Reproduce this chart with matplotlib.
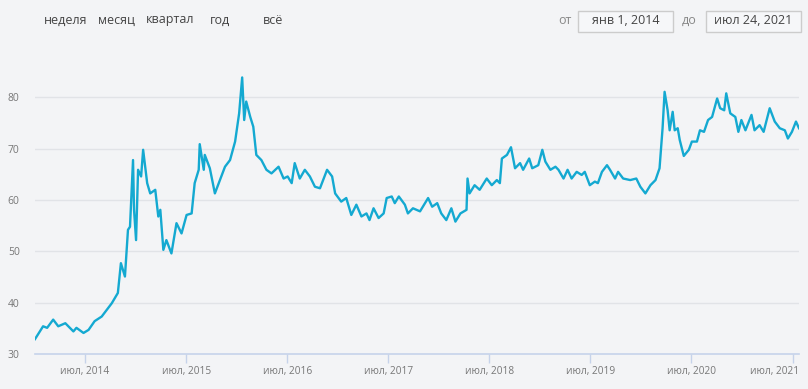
import matplotlib
matplotlib.use("Agg")
import matplotlib.pyplot as plt
import matplotlib.transforms as mtransforms
from matplotlib.patches import Rectangle

# USD/RUB, decimal years
years = [
    2014.00, 2014.08, 2014.12, 2014.18, 2014.23, 2014.30, 2014.38, 2014.41, 2014.48, 2014.53,
    2014.59, 2014.66, 2014.71, 2014.76, 2014.82, 2014.85, 2014.89, 2014.92, 2014.94, 2014.97,
    2014.98, 2015.00, 2015.02, 2015.05, 2015.07, 2015.11, 2015.14, 2015.19, 2015.22, 2015.24,
    2015.27, 2015.30, 2015.35, 2015.40, 2015.45, 2015.50, 2015.55, 2015.58, 2015.62, 2015.63,
    2015.67, 2015.68, 2015.73, 2015.78, 2015.83, 2015.88, 2015.93, 2015.98, 2016.02, 2016.05,
    2016.07, 2016.09, 2016.13, 2016.16, 2016.19, 2016.24, 2016.29, 2016.34, 2016.41, 2016.46,
    2016.50, 2016.54, 2016.57, 2016.62, 2016.67, 2016.72, 2016.77, 2016.82, 2016.89, 2016.94,
    2016.97, 2017.03, 2017.08, 2017.13, 2017.18, 2017.23, 2017.28, 2017.31, 2017.35, 2017.40,
    2017.45, 2017.48, 2017.53, 2017.56, 2017.60, 2017.66, 2017.69, 2017.74, 2017.81, 2017.89,
    2017.93, 2017.98, 2018.02, 2018.07, 2018.12, 2018.16, 2018.21, 2018.27, 2018.28, 2018.30,
    2018.35, 2018.40, 2018.47, 2018.52, 2018.57, 2018.60, 2018.62, 2018.67, 2018.71, 2018.75,
    2018.80, 2018.83, 2018.89, 2018.92, 2018.95, 2018.98, 2019.02, 2019.05, 2019.10, 2019.15,
    2019.18, 2019.23, 2019.27, 2019.31, 2019.36, 2019.41, 2019.44, 2019.49, 2019.54, 2019.57,
    2019.61, 2019.66, 2019.69, 2019.74, 2019.77, 2019.82, 2019.89, 2019.95, 2019.99, 2020.04,
    2020.09, 2020.14, 2020.18, 2020.21, 2020.23, 2020.26, 2020.28, 2020.31, 2020.33, 2020.36,
    2020.38, 2020.42, 2020.47, 2020.50, 2020.55, 2020.58, 2020.62, 2020.66, 2020.70, 2020.75,
    2020.78, 2020.82, 2020.84, 2020.88, 2020.93, 2020.96, 2020.99, 2021.03, 2021.09, 2021.12,
    2021.17, 2021.21, 2021.27, 2021.32, 2021.37, 2021.42, 2021.45, 2021.49, 2021.53, 2021.56,
]
usd_rub = [
    32.9, 35.4, 35.1, 36.7, 35.4, 36.0, 34.4, 35.1, 34.1, 34.7,
    36.4, 37.3, 38.6, 39.9, 41.9, 47.7, 45.1, 54.2, 54.8, 67.8,
    58.1, 52.2, 65.9, 64.6, 69.8, 63.3, 61.3, 62.0, 56.8, 58.1,
    50.3, 52.2, 49.6, 55.5, 53.5, 57.1, 57.4, 63.3, 65.9, 70.9,
    65.9, 68.8, 66.2, 61.3, 63.9, 66.5, 67.8, 71.4, 76.9, 83.9,
    75.6, 79.2, 76.2, 74.3, 68.8, 67.8, 65.9, 65.2, 66.5, 64.2,
    64.6, 63.3, 67.2, 64.2, 65.9, 64.6, 62.6, 62.3, 65.9, 64.6,
    61.3, 59.7, 60.4, 57.1, 59.1, 56.8, 57.4, 56.1, 58.4, 56.5,
    57.4, 60.4, 60.7, 59.4, 60.7, 59.1, 57.4, 58.4, 57.8, 60.4,
    58.7, 59.4, 57.4, 56.1, 58.4, 55.8, 57.4, 58.1, 64.2, 61.3,
    62.9, 62.0, 64.2, 62.9, 63.9, 63.3, 68.1, 68.8, 70.3, 66.2,
    67.2, 65.9, 68.1, 66.2, 66.5, 66.8, 69.8, 67.5, 65.9, 66.5,
    65.9, 64.2, 65.9, 64.2, 65.5, 64.9, 65.5, 62.9, 63.6, 63.3,
    65.5, 66.8, 65.9, 64.2, 65.5, 64.2, 63.9, 64.2, 62.6, 61.3,
    62.9, 63.9, 66.2, 74.0, 81.1, 77.5, 73.6, 77.2, 73.6, 74.0,
    71.7, 68.6, 69.8, 71.4, 71.4, 73.6, 73.3, 75.6, 76.2, 79.8,
    77.9, 77.5, 80.8, 76.9, 76.2, 73.3, 75.6, 73.6, 76.6, 73.6,
    74.6, 73.3, 77.9, 75.3, 74.0, 73.6, 72.0, 73.3, 75.3, 74.0,
]

y_ticks = [30, 40, 50, 60, 70, 80]
x_tick_pos = [y + 181 / 365 for y in range(2014, 2022)]
x_tick_labels = [f"июл, {y}" for y in range(2014, 2022)]
periods = ["неделя", "месяц", "квартал", "год", "всё"]
period_x = [44, 98, 146, 210, 263]

bg = "#f3f4f6"
line_color = "#14a9d1"
plt.rcParams["font.family"] = ["Open Sans", "DejaVu Sans"]

W, H = 808, 389
fig = plt.figure(figsize=(W / 100, H / 100), dpi=100, facecolor=bg)
ax = fig.add_axes([35 / W, 35 / H, 764 / W, 294 / H])
ax.set_facecolor(bg)

ax.plot(years, usd_rub, color=line_color, lw=1.7, solid_joinstyle="round")

ax.set_xlim(2014.0, 2021.56)
ax.set_ylim(30, 87.3)
ax.set_yticks(y_ticks)
ax.set_yticklabels([str(v) for v in y_ticks])
ax.set_xticks(x_tick_pos)
ax.set_xticklabels(x_tick_labels)

for side in ["top", "right", "left"]:
    ax.spines[side].set_visible(False)
ax.spines["bottom"].set_color("#c6d3ea")
ax.spines["bottom"].set_linewidth(1.2)

for v in y_ticks[1:]:
    ax.axhline(v, color="#e1e3e7", lw=1, zorder=0)

ax.tick_params(axis="y", length=0, pad=11, labelsize=7.5, labelcolor="#777777")
ax.tick_params(axis="x", length=6.5, width=1, color="#c6d3ea", pad=2,
               labelsize=7.3, labelcolor="#777777")

# the last label is pushed inside the figure, as in the reference
last = ax.get_xticklabels()[-1]
last.set_ha("right")
last.set_transform(last.get_transform() +
                   mtransforms.ScaledTranslation(7 / 100, 0, fig.dpi_scale_trans))

# period buttons
for label, px in zip(periods, period_x):
    fig.text(px / W, 1 - 20 / H, label, fontsize=9, color="#444444",
             ha="left", va="center")

# date range boxes
fig.text(558 / W, 1 - 20 / H, "от", fontsize=9, color="#888888", ha="left", va="center")
fig.text(682 / W, 1 - 20 / H, "до", fontsize=9, color="#888888", ha="left", va="center")
for x0, x1, txt in [(578, 673, "янв 1, 2014"), (706, 801, "июл 24, 2021")]:
    fig.add_artist(Rectangle((x0 / W, 1 - 32 / H), (x1 - x0) / W, 21 / H,
                             transform=fig.transFigure, facecolor="#f6f7f9",
                             edgecolor="#cccccc", lw=1))
    fig.text((x0 + x1) / 2 / W, 1 - 21 / H, txt, fontsize=9, color="#444444",
             ha="center", va="center")

fig.savefig("out.png", dpi=100, facecolor=bg)
